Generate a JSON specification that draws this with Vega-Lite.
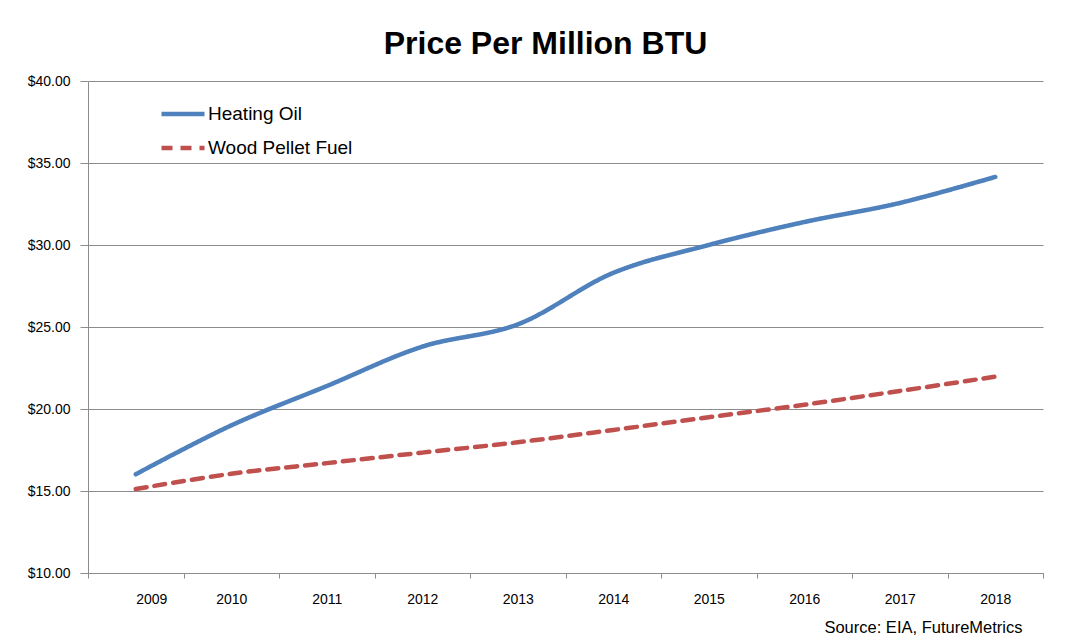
{
  "$schema": "https://vega.github.io/schema/vega-lite/v6.json",
  "width": 955,
  "height": 492,
  "autosize": "none",
  "padding": {"left": 88, "top": 81, "right": 30, "bottom": 66},
  "background": "white",
  "title": {
    "text": "Price Per Million BTU",
    "font": "Liberation Sans",
    "fontSize": 32,
    "fontWeight": "bold",
    "color": "black",
    "anchor": "middle",
    "baseline": "alphabetic",
    "dx": -20,
    "dy": 30,
    "offset": 18
  },
  "data": {
    "values": [
      {"year": 2009, "series": "Heating Oil", "price": 16.02},
      {"year": 2010, "series": "Heating Oil", "price": 19.0},
      {"year": 2011, "series": "Heating Oil", "price": 21.4},
      {"year": 2012, "series": "Heating Oil", "price": 23.8},
      {"year": 2013, "series": "Heating Oil", "price": 25.16},
      {"year": 2014, "series": "Heating Oil", "price": 28.3},
      {"year": 2015, "series": "Heating Oil", "price": 30.0},
      {"year": 2016, "series": "Heating Oil", "price": 31.4},
      {"year": 2017, "series": "Heating Oil", "price": 32.56},
      {"year": 2018, "series": "Heating Oil", "price": 34.15},
      {"year": 2009, "series": "Wood Pellet Fuel", "price": 15.12},
      {"year": 2010, "series": "Wood Pellet Fuel", "price": 16.05},
      {"year": 2011, "series": "Wood Pellet Fuel", "price": 16.7},
      {"year": 2012, "series": "Wood Pellet Fuel", "price": 17.34},
      {"year": 2013, "series": "Wood Pellet Fuel", "price": 17.97},
      {"year": 2014, "series": "Wood Pellet Fuel", "price": 18.72},
      {"year": 2015, "series": "Wood Pellet Fuel", "price": 19.5},
      {"year": 2016, "series": "Wood Pellet Fuel", "price": 20.26},
      {"year": 2017, "series": "Wood Pellet Fuel", "price": 21.1},
      {"year": 2018, "series": "Wood Pellet Fuel", "price": 21.97}
    ]
  },
  "mark": {"type": "line", "interpolate": "catmull-rom", "strokeWidth": 4.5, "strokeCap": "round", "clip": false},
  "encoding": {
    "x": {
      "field": "year",
      "type": "quantitative",
      "scale": {"domain": [2008.5, 2018.5], "nice": false, "zero": false},
      "axis": {
        "values": [2008.5, 2009.5, 2010.5, 2011.5, 2012.5, 2013.5, 2014.5, 2015.5, 2016.5, 2017.5, 2018.5],
        "labelExpr": "datum.value > 2018 ? '' : toString(datum.value + 0.5)",
        "labelOffset": 47.75,
        "labelPadding": 14,
        "labelFont": "Liberation Sans",
        "labelFontSize": 14,
        "labelColor": "black",
        "grid": false,
        "tickSize": 5,
        "tickColor": "#8c8c8c",
        "domainColor": "#8c8c8c",
        "title": "Source: EIA, FutureMetrics",
        "titleFont": "Liberation Sans",
        "titleFontSize": 16.5,
        "titleFontWeight": "normal",
        "titleColor": "black",
        "titleAnchor": "end",
        "titleAlign": "right",
        "titleBaseline": "middle",
        "titleX": 934,
        "titleY": 54
      }
    },
    "y": {
      "field": "price",
      "type": "quantitative",
      "scale": {"domain": [10, 40], "nice": false, "zero": false},
      "axis": {
        "values": [10, 15, 20, 25, 30, 35, 40],
        "format": "$.2f",
        "labelFont": "Liberation Sans",
        "labelFontSize": 14,
        "labelColor": "black",
        "labelPadding": 10,
        "tickSize": 8,
        "tickColor": "#8c8c8c",
        "domainColor": "#8c8c8c",
        "gridColor": "#8c8c8c",
        "gridOpacity": 1,
        "grid": true,
        "title": null
      }
    },
    "color": {
      "field": "series",
      "type": "nominal",
      "scale": {"domain": ["Heating Oil", "Wood Pellet Fuel"], "range": ["#4F81BD", "#C0504D"]},
      "legend": {
        "title": null,
        "orient": "none",
        "legendX": 71,
        "legendY": 9,
        "symbolType": "stroke",
        "symbolSize": 1849,
        "symbolStrokeWidth": 4.5,
        "labelFont": "Liberation Sans",
        "labelFontSize": 19,
        "labelColor": "black",
        "labelOffset": 1,
        "rowPadding": -8
      }
    },
    "strokeDash": {
      "field": "series",
      "type": "nominal",
      "scale": {"domain": ["Heating Oil", "Wood Pellet Fuel"], "range": [[1, 0], [11, 8]]},
      "legend": {
        "title": null,
        "orient": "none",
        "legendX": 71,
        "legendY": 9,
        "symbolType": "stroke",
        "symbolSize": 1849,
        "symbolStrokeWidth": 4.5,
        "labelFont": "Liberation Sans",
        "labelFontSize": 19,
        "labelColor": "black",
        "labelOffset": 1,
        "rowPadding": -8
      }
    }
  },
  "config": {
    "view": {"stroke": null},
    "axis": {"domainWidth": 1, "tickWidth": 1, "gridWidth": 1}
  }
}
